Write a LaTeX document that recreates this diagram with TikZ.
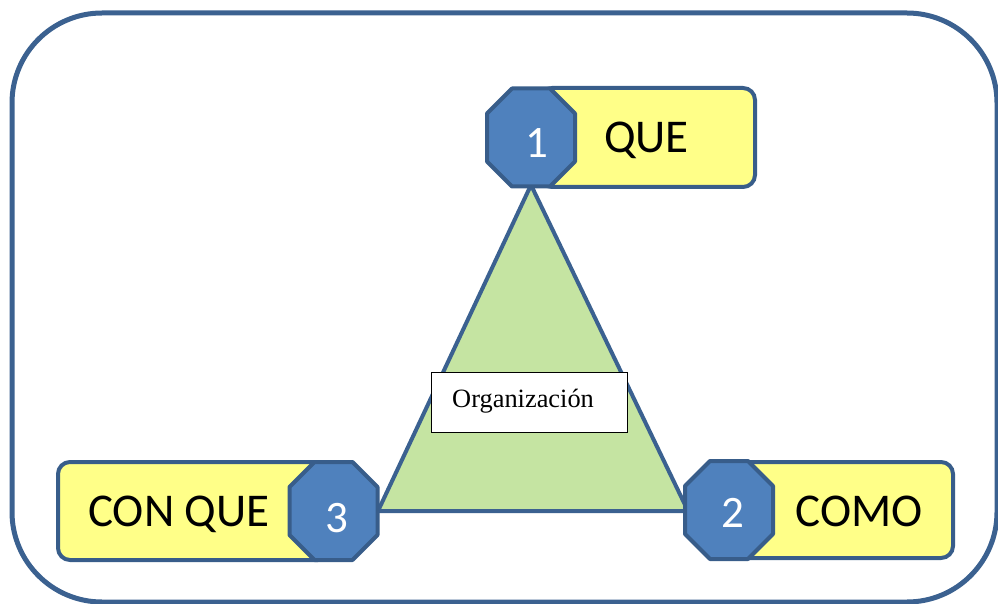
\documentclass[tikz,border=0pt]{standalone}
\usepackage{fontspec}
\setmainfont{Carlito}
\newfontfamily\seriffont{Liberation Serif}
\definecolor{frameblue}{HTML}{3B6190}
\definecolor{octfill}{HTML}{4F81BD}
\definecolor{octline}{HTML}{385D8A}
\definecolor{boxyellow}{HTML}{FFFF88}
\definecolor{trigreen}{HTML}{C5E4A2}
\begin{document}
\begin{tikzpicture}[x=1pt,y=-1pt,
  labelbox/.style={draw=octline,line width=4pt,fill=boxyellow,rounded corners=12pt,inner sep=0pt,outer sep=0pt},
  octbox/.style={minimum width=88pt,minimum height=98pt,inner sep=0pt,outer sep=0pt},
  octpath/.style={draw=octline,line width=4pt,fill=octfill,line join=round},
  bigtext/.style={font=\fontsize{47}{52}\selectfont,anchor=base,inner sep=0pt},
  numtext/.style={font=\fontsize{45}{50}\selectfont,text=white,anchor=base,inner sep=0pt},
  orgbox/.style={draw=black,line width=1pt,fill=white,minimum width=196pt,minimum height=60pt,inner sep=0pt},
  orgtext/.style={font=\seriffont\fontsize{26.4}{30}\selectfont,anchor=base west,inner sep=0pt}]
\useasboundingbox (0,0) rectangle (998,604);
% outer frame
\draw[frameblue,line width=5pt,rounded corners=90pt] (12,13) rectangle (997,602);
% triangle
\coordinate (apex) at (531,185);
\coordinate (left) at (378,511);
\coordinate (right) at (688,511);
\draw[fill=trigreen,draw=frameblue,line width=4pt,line join=round] (apex) -- (right) -- (left) -- cycle;
% organizacion
\node[orgbox] (org) at (529,402) {};
\node[orgtext] (orgt) at (452,407) {Organización};
% yellow boxes
\node[labelbox,minimum width=215pt,minimum height=99pt] (b1) at (647.5,137.5) {};
\node[labelbox,minimum width=272pt,minimum height=98pt] (b3) at (194,511) {};
\node[labelbox,minimum width=218pt,minimum height=96pt] (b2) at (844,510) {};
\node[bigtext] (t1) at (646.5,153) {QUE};
\node[bigtext] (t3) at (179,526.5) {CON QUE};
\node[bigtext] (t2) at (859.5,526) {COMO};
% octagons
\newcommand\octagonat[1]{%
  \draw[octpath] ([xshift=25pt]#1.north west) -- ([xshift=-25pt]#1.north east)
    -- ([yshift=-25pt]#1.north east) -- ([yshift=25pt]#1.south east)
    -- ([xshift=-25pt]#1.south east) -- ([xshift=25pt]#1.south west)
    -- ([yshift=25pt]#1.south west) -- ([yshift=-25pt]#1.north west) -- cycle;}
\node[octbox] (o1) at (531,137.5) {};
\node[octbox] (o3) at (333.5,511) {};
\node[octbox] (o2) at (729,510) {};
\octagonat{o1}
\octagonat{o3}
\octagonat{o2}
\node[numtext] (n1) at (537,158) {1};
\node[numtext] (n3) at (337,532) {3};
\node[numtext] (n2) at (733,527) {2};
\end{tikzpicture}
\end{document}
